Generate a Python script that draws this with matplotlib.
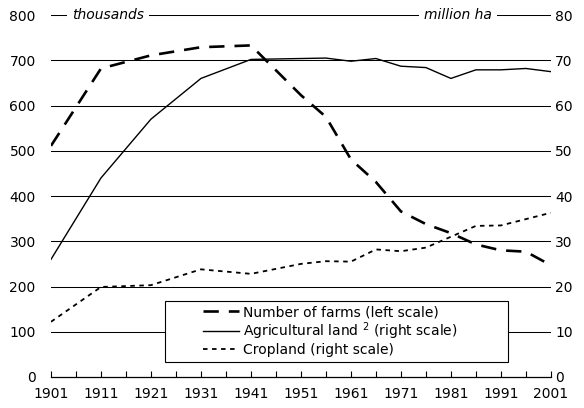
import matplotlib
matplotlib.use('Agg')
import matplotlib.pyplot as plt
from matplotlib.patches import Rectangle

plt.rcParams['font.family'] = ['DejaVu Sans']
plt.rcParams['mathtext.fontset'] = 'dejavusans'

# census years
years = [1901, 1911, 1921, 1931, 1941, 1951, 1956, 1961, 1966, 1971,
         1976, 1981, 1986, 1991, 1996, 2001]
# number of farms, thousands (left scale)
farms = [511, 682, 711, 729, 733, 623, 575, 481, 431, 366,
         338, 318, 293, 280, 277, 247]
# agricultural land, million ha (right scale)
agri_land = [26.0, 44.0, 57.0, 66.0, 70.2, 70.4, 70.5, 69.8, 70.4, 68.7,
             68.4, 66.0, 67.9, 67.9, 68.2, 67.5]
# cropland, million ha (right scale)
cropland = [12.2, 19.9, 20.3, 23.8, 22.8, 25.0, 25.6, 25.5, 28.2, 27.8,
            28.6, 31.0, 33.4, 33.5, 34.9, 36.3]

major_years = list(range(1901, 2002, 10))
minor_years = list(range(1906, 2002, 10))

fs = 10

fig = plt.figure(figsize=(5.84, 4.08), dpi=100)
ax = fig.add_axes([0.0873, 0.076, 0.856, 0.887])
ax2 = ax.twinx()

# horizontal grid on left scale
for v in range(100, 801, 100):
    ax.axhline(v, color='black', lw=0.75, zorder=0)

l1, = ax.plot(years, farms, color='black', lw=1.9, dashes=(5.8, 3.8),
              label='Number of farms (left scale)')
l2, = ax2.plot(years, agri_land, color='black', lw=1.0,
               label='Agricultural land $^{2}$ (right scale)')
l3, = ax2.plot(years, cropland, color='black', lw=1.3, dashes=(2.5, 2.5),
               label='Cropland (right scale)')

ax.set_xlim(1901, 2001)
ax.set_ylim(0, 800)
ax2.set_ylim(0, 80)

ax.set_xticks(major_years)
ax.set_xticks(minor_years, minor=True)
ax.set_yticks(range(0, 801, 100))
ax2.set_yticks(range(0, 81, 10))

for a in (ax, ax2):
    for s in ('top', 'left', 'right', 'bottom'):
        a.spines[s].set_visible(False)
ax.spines['bottom'].set_visible(True)
ax.spines['bottom'].set_linewidth(0.9)

ax.tick_params(axis='x', which='both', direction='in', length=4, width=0.8,
               labelsize=fs, pad=7)
ax.tick_params(axis='y', length=0, labelsize=fs, pad=11)
ax2.tick_params(axis='y', length=0, labelsize=fs, pad=3)

# unit labels on the top line
box = dict(facecolor='white', edgecolor='none', pad=3.5)
ax.text(1905.2, 800, 'thousands', style='italic', fontsize=fs,
        ha='left', va='center', bbox=box, zorder=3)
ax.text(1989.2, 800, 'million ha', style='italic', fontsize=fs,
        ha='right', va='center', bbox=box, zorder=3)

# legend box
bx, by, bw, bh = 0.228, 0.0423, 0.686, 0.1685
ax2.add_patch(Rectangle((bx, by), bw, bh, transform=ax2.transAxes,
                        facecolor='white', edgecolor='black', lw=0.8,
                        zorder=4, clip_on=False))
leg = ax2.legend(handles=[l1, l2, l3], loc='center',
                 bbox_to_anchor=(bx + bw / 2 - 0.012, by + bh / 2),
                 fontsize=fs, frameon=False, handlelength=2.6,
                 handletextpad=0.25, labelspacing=0.08, borderpad=0,
                 borderaxespad=0)
leg.set_zorder(5)

plt.savefig('out.png', dpi=100)
